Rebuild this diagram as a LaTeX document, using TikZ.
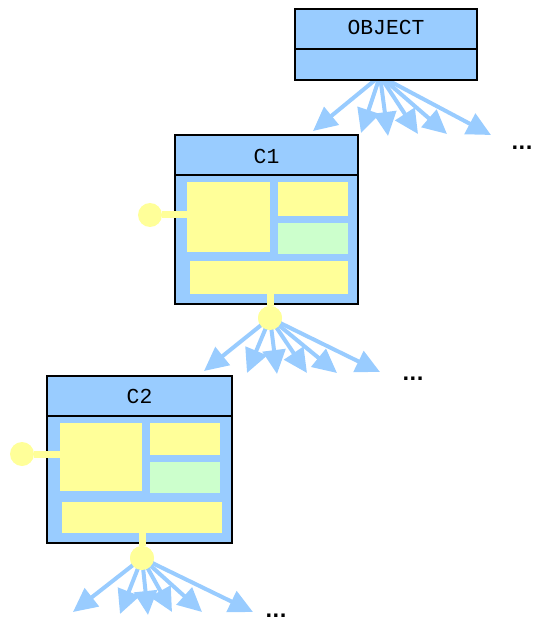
\documentclass[tikz,border=0pt]{standalone}
\usepackage{fontspec}
\newfontfamily\lblfont{Liberation Mono}
\newfontfamily\dotfont{DejaVu Sans}
\usetikzlibrary{arrows.meta}
\definecolor{cblue}{HTML}{99CCFF}
\definecolor{cyellow}{HTML}{FFFF99}
\definecolor{cgreen}{HTML}{CCFFCC}
\begin{document}
\begin{tikzpicture}[x=0.75pt,y=-0.75pt,
  classbox/.style={draw=black, line width=1.5pt, fill=cblue, inner sep=0pt},
  title/.style={font=\lblfont\fontsize{16pt}{18pt}\selectfont, inner sep=0pt},
  part/.style={fill=cyellow, draw=none},
  gpart/.style={fill=cgreen, draw=none},
  stem/.style={draw=cyellow, line width=5.25pt},
  port/.style={circle, fill=cyellow, draw=none, minimum size=18pt, inner sep=0pt},
  fan/.style={draw=cblue, line width=3pt, -{Triangle[length=18pt,width=17pt]}},
  more/.style={font=\dotfont\bfseries\fontsize{14pt}{16pt}\selectfont, inner sep=0pt}
]
\useasboundingbox (0,0) rectangle (532,623);

% ---- C1 ----
\node[classbox, minimum width=137.25pt, minimum height=126.75pt] (c1) at (266.5,219.5) {};
\draw[line width=1.5pt] (175,175) -- (358,175);
\node[title] (c1t) at (266.5,156) {C1};
\fill[part] (187,182) rectangle (270,252);
\fill[part] (278,182) rectangle (348,216);
\fill[gpart] (278,223) rectangle (348,254);
\fill[part] (190,261) rectangle (348,294);
\node[port] (c1l) at (150,215) {};
\node[port] (c1b) at (270,318) {};
\coordinate (c1lin) at (188,215);
\coordinate (c1bin) at (270,293);
\draw[stem] (c1l) -- (c1lin);
\draw[stem] (c1bin) -- (c1b);

% ---- C2 ----
\node[classbox, minimum width=138.75pt, minimum height=125.25pt] (c2) at (139.5,459.5) {};
\draw[line width=1.5pt] (47,416) -- (232,416);
\node[title] (c2t) at (139.5,396) {C2};
\fill[part] (60,423) rectangle (142,491);
\fill[part] (150,423) rectangle (220,455);
\fill[gpart] (150,462) rectangle (220,493);
\fill[part] (62,502) rectangle (222,533);
\node[port] (c2l) at (22,454) {};
\node[port] (c2b) at (142,558) {};
\coordinate (c2lin) at (61,454);
\coordinate (c2bin) at (142,532);
\draw[stem] (c2l) -- (c2lin);
\draw[stem] (c2bin) -- (c2b);

% ---- OBJECT fan ----
\coordinate (o0) at (380,76);
\coordinate (oa) at (313,131);
\coordinate (ob) at (361,133);
\coordinate (oc) at (388,136);
\coordinate (od) at (418,134);
\coordinate (oe) at (447,134);
\coordinate (of) at (491,135);
\foreach \t in {oa,ob,oc,od,oe,of} \draw[fan] (o0) -- (\t);

% ---- OBJECT ----
\node[classbox, minimum width=136.5pt, minimum height=53.25pt] (obj) at (386,44.5) {};
\draw[line width=1.5pt] (295,49) -- (477,49);
\node[title] (objt) at (386,27) {OBJECT};

% ---- C1 fan ----
\coordinate (pa) at (204,371);
\coordinate (pb) at (247,373);
\coordinate (pc) at (277,374);
\coordinate (pd) at (307,373);
\coordinate (pe) at (337,373);
\coordinate (pf) at (380,372);
\foreach \t in {pa,pb,pc,pd,pe,pf} \draw[fan] (c1b.center) -- (\t);
\node[port] at (c1b) {};

% ---- C2 fan ----
\coordinate (qa) at (73,612);
\coordinate (qb) at (120,614);
\coordinate (qc) at (148,615);
\coordinate (qd) at (172,612);
\coordinate (qe) at (202,612);
\coordinate (qf) at (253,612);
\foreach \t in {qa,qb,qc,qd,qe,qf} \draw[fan] (c2b.center) -- (\t);
\node[port] at (c2b) {};

% ---- ellipses ----
\node[more] (m1) at (522,148) {...};
\node[more] (m2) at (413,379) {...};
\node[more] (m3) at (276,616) {...};
\end{tikzpicture}
\end{document}
